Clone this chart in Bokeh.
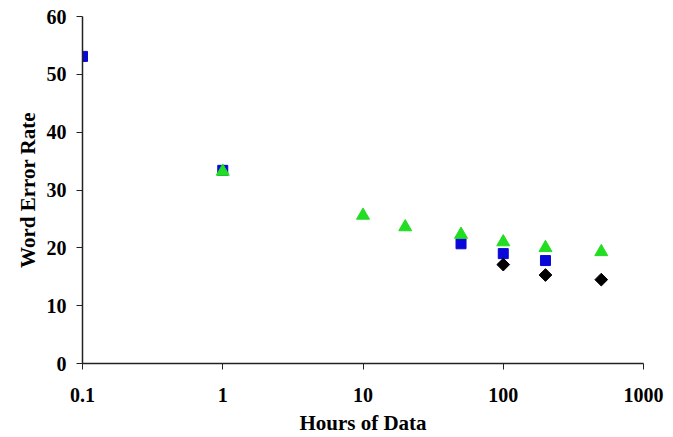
import math
from bokeh.plotting import figure
from bokeh.models import FixedTicker, Range1d
from bokeh.embed import file_html
from bokeh.resources import INLINE

# Data
square_hours = [0.1, 1, 50, 100, 200]
square_wer = [53.1, 33.4, 20.7, 19.0, 17.8]

triangle_hours = [1, 10, 20, 50, 100, 200, 500]
triangle_wer = [33.2, 25.6, 23.6, 22.3, 21.0, 20.0, 19.3]

diamond_hours = [100, 200, 500]
diamond_wer = [17.1, 15.3, 14.5]

x_ticks = [0.1, 1, 10, 100, 1000]
x_tick_labels = ["0.1", "1", "10", "100", "1000"]
y_ticks = [0, 10, 20, 30, 40, 50, 60]

FONT = "Liberation Serif"

p = figure(width=673, height=437, x_axis_type="log",
           x_range=Range1d(0.1, 1000), y_range=Range1d(0, 60),
           output_backend="svg", toolbar_location=None,
           min_border_left=82, min_border_right=30,
           min_border_top=16, min_border_bottom=74)
p.outline_line_color = None
p.xgrid.visible = False
p.ygrid.visible = False
p.background_fill_color = "white"
p.border_fill_color = "white"

p.scatter(square_hours, square_wer, marker="square", size=10,
          fill_color="#0808d8", line_color="#0808d8")
p.scatter(triangle_hours, triangle_wer, marker="triangle", size=13,
          fill_color="#22dd22", line_color="#22dd22")
p.scatter(diamond_hours, diamond_wer, marker="square", size=9, angle=math.pi / 4,
          fill_color="black", line_color="black")

for ax in (p.xaxis[0], p.yaxis[0]):
    ax.axis_line_color = "#222222"
    ax.axis_line_width = 1.5
    ax.major_tick_line_color = "#222222"
    ax.major_tick_out = 6
    ax.major_tick_in = 0
    ax.minor_tick_line_color = None
    ax.major_label_text_font = FONT
    ax.major_label_text_font_style = "bold"
    ax.major_label_text_font_size = "20px"
    ax.major_label_text_color = "black"
    ax.axis_label_text_font = FONT
    ax.axis_label_text_font_style = "bold"
    ax.axis_label_text_font_size = "21px"
    ax.axis_label_text_color = "black"

p.xaxis[0].ticker = FixedTicker(ticks=x_ticks)
p.xaxis[0].major_label_overrides = {t: l for t, l in zip(x_ticks, x_tick_labels)}
p.xaxis[0].major_label_standoff = 18
p.xaxis[0].axis_label = "Hours of Data"
p.xaxis[0].axis_label_standoff = 6

p.yaxis[0].ticker = FixedTicker(ticks=y_ticks)
p.yaxis[0].major_label_standoff = 10
p.yaxis[0].axis_label = "Word Error Rate"
p.yaxis[0].axis_label_standoff = 4

open("out.html", "w").write(file_html(p, INLINE))
